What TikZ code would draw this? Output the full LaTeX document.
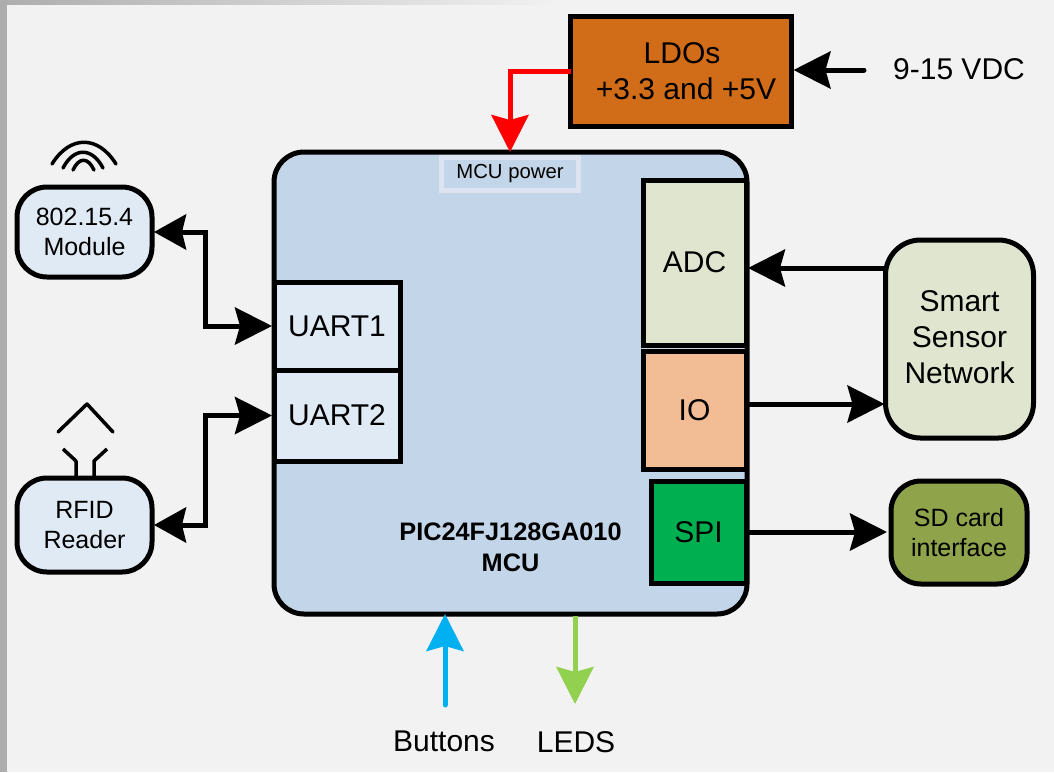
\documentclass[tikz,border=0pt]{standalone}
\usepackage{fontspec}
\setmainfont{Liberation Sans}
\usetikzlibrary{arrows.meta,positioning}
\definecolor{pagebg}{HTML}{F2F2F2}
\definecolor{mcufill}{HTML}{C3D5E8}
\definecolor{lightblue}{HTML}{E0EAF4}
\definecolor{sage}{HTML}{E0E5CF}
\definecolor{peach}{HTML}{F2BC94}
\definecolor{spigreen}{HTML}{00B050}
\definecolor{ldofill}{HTML}{D16C18}
\definecolor{olive}{HTML}{8FA34B}
\definecolor{pwrrim}{HTML}{DDE3F0}
\definecolor{btncyan}{HTML}{00B0F0}
\definecolor{ledgreen}{HTML}{92D050}
\tikzset{
  head/.tip={Stealth[length=37pt,width=37pt,inset=5pt]},
  smallhead/.tip={Stealth[length=32pt,width=35pt,inset=4pt]},
  block/.style={draw=black,line width=5pt,outer sep=0pt,inner sep=0pt,align=center,
    font=\fontsize{30}{36}\selectfont},
  roundblock/.style={block,rounded corners=30pt},
  smallblock/.style={roundblock,font=\fontsize{25}{30}\selectfont},
  plain/.style={inner sep=0pt,align=center,font=\fontsize{30}{36}\selectfont},
  flow/.style={-head,line width=5pt,draw=black,shorten >=2pt},
  dflow/.style={flow,smallhead-head,shorten <=2pt},
  colflow/.style={-head,line width=5pt},
  icon/.style={draw=black,line width=3.5pt,line cap=round,line join=round},
}
\begin{document}
\begin{tikzpicture}[x=1pt,y=-1pt]
  \useasboundingbox (0,0) rectangle (1054,772);
  % page and its grey edges
  \fill[pagebg] (0,0) rectangle (1054,772);
  \shade[left color=black!32,right color=pagebg] (0,0) rectangle (560,4.5);
  \fill[black!32] (0,0) rectangle (7,772);
  % MCU
  \node[roundblock,fill=mcufill,minimum width=473pt,minimum height=462pt] (mcu) at (510.5,383) {};
  \node[draw=pwrrim,fill=mcufill,line width=5pt,outer sep=0pt,minimum width=137pt,minimum height=33pt,
    inner sep=0pt,font=\fontsize{20.3}{24}\selectfont] (powerlbl) at (510,173.5) {MCU power};
  \node[block,fill=lightblue,minimum width=126pt,minimum height=88pt] (uartone) at (337,326) {UART1};
  \node[block,fill=lightblue,minimum width=126pt,minimum height=91pt,below=0pt of uartone] (uarttwo) {UART2};
  \node[block,fill=sage,minimum width=103pt,minimum height=165pt] (adc) at (694.5,262.5) {ADC};
  \node[block,fill=peach,minimum width=103pt,minimum height=118pt] (io) at (694.5,410) {IO};
  \node[block,fill=spigreen,minimum width=95pt,minimum height=102pt] (spi) at (698.5,532) {SPI};
  \node[plain,font=\fontsize{25.3}{31}\selectfont\bfseries] (mcutext) at (510.5,547) {PIC24FJ128GA010\\MCU};
  % outside blocks
  \node[block,fill=ldofill,minimum width=221pt,minimum height=110.5pt] (ldo) at (681,71.5) {\hspace*{2pt}LDOs\\\hspace*{10pt}+3.3 and +5V};
  \node[plain] (vdc) at (959,69) {9-15 VDC};
  \node[smallblock,fill=lightblue,minimum width=135pt,minimum height=90pt] (module) at (84.5,232) {802.15.4\\Module};
  \node[smallblock,fill=lightblue,minimum width=135pt,minimum height=94pt] (rfid) at (84.5,525) {RFID\\Reader};
  \node[roundblock,fill=sage,minimum width=148pt,minimum height=198pt,rounded corners=35pt] (sensor) at (959.5,339) {Smart\\Sensor\\Network\rule[-3pt]{0pt}{0pt}};
  \node[smallblock,fill=olive,minimum width=136pt,minimum height=103pt] (sdcard) at (959,532.5) {SD card\\interface};
  \node[plain] (buttons) at (444,741) {Buttons};
  \node[plain] (leds) at (576,742) {LEDS};
  % connectors
  \draw[dflow] (module.east) -- ++(53,0) |- (uartone.west);
  \draw[dflow] (rfid.east) -- ++(53,0) |- (uarttwo.west);
  \draw[colflow,red] (ldo.west) -| (powerlbl.north |- mcu.north);
  \coordinate (vdcend) at (864,70);
  \draw[flow,line cap=round] (vdcend) -- (ldo.east |- vdcend);
  \coordinate (adcin) at (sensor.west |- 0,268);
  \draw[flow] (adcin) -- (adc.east |- adcin);
  \coordinate (ioout) at (io.east |- 0,404);
  \draw[flow,shorten >=1pt] (ioout) -- (sensor.west |- ioout);
  \draw[flow,shorten >=4pt] (spi.east) -- (sdcard.west |- spi.east);
  \coordinate (btnstart) at (445,705);
  \draw[colflow,btncyan,line cap=round] (btnstart) -- (btnstart |- mcu.south);
  \coordinate (ledstart) at (575,616);
  \draw[colflow,ledgreen] (ledstart) -- ++(0,88);
  % radio and antenna marks
  \draw[icon] (52,164) .. controls (70,135) and (98,135) .. (116,164);
  \draw[icon] (63,168) .. controls (74,147) and (92,147) .. (103,168);
  \draw[icon] (73,170) .. controls (79,157) and (88,157) .. (94,170);
  \draw[icon] (58,432) -- (87,404) -- (113,432);
  \draw[icon,line cap=butt] (76,478) -- (76,461) -- (63,449);
  \draw[icon,line cap=butt] (94,478) -- (94,461) -- (107,449);
\end{tikzpicture}
\end{document}
